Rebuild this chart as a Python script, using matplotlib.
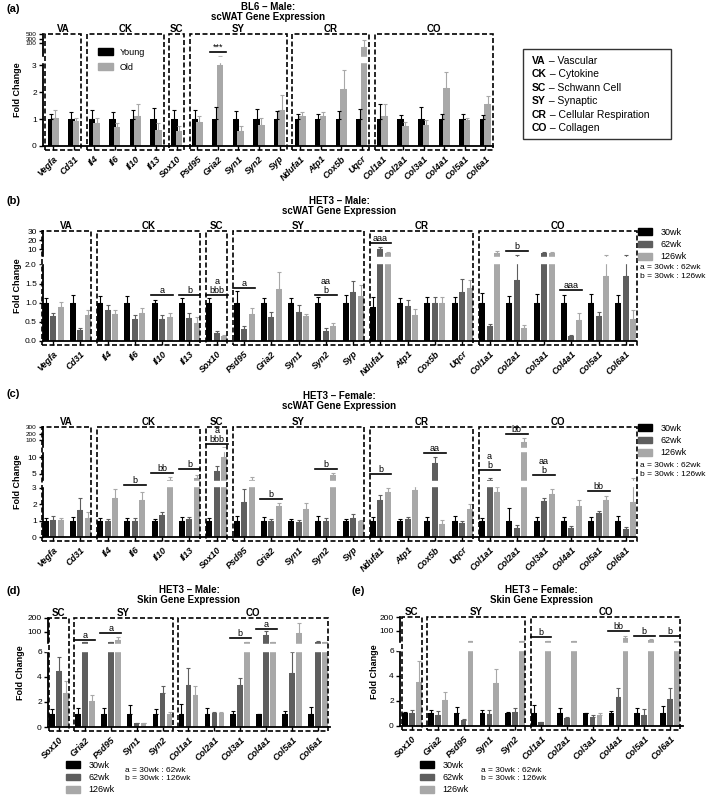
import numpy as np
import matplotlib.pyplot as plt
from matplotlib.patches import Rectangle, Patch

plt.rcParams['font.family'] = ['Liberation Sans', 'DejaVu Sans']
plt.rcParams['axes.linewidth'] = 1.3

genes_wat = ['Vegfa', 'Cd31', 'Il4', 'Il6', 'Il10', 'Il13', 'Sox10', 'Psd95', 'Gria2', 'Syn1', 'Syn2', 'Syp',
             'Ndufa1', 'Atp1', 'Cox5b', 'Uqcr', 'Col1a1', 'Col2a1', 'Col3a1', 'Col4a1', 'Col5a1', 'Col6a1']
groups_wat = [('VA', 0, 1), ('CK', 2, 5), ('SC', 6, 6), ('SY', 7, 11), ('CR', 12, 15), ('CO', 16, 21)]
genes_skin = ['Sox10', 'Gria2', 'Psd95', 'Syn1', 'Syn2', 'Col1a1', 'Col2a1', 'Col3a1', 'Col4a1', 'Col5a1', 'Col6a1']
groups_skin = [('SC', 0, 0), ('SY', 1, 4), ('CO', 5, 10)]
category_names = [('VA', 'Vascular'), ('CK', 'Cytokine'), ('SC', 'Schwann Cell'), ('SY', 'Synaptic'),
                  ('CR', 'Cellular Respiration'), ('CO', 'Collagen')]

# (a) BL6 male, scWAT
a_young = [1.0] * 22
a_young_err = [0.2, 0.25, 0.35, 0.25, 0.35, 0.4, 0.35, 0.35, 0.45, 0.3, 0.38, 0.3,
               0.2, 0.18, 0.3, 0.37, 0.55, 0.15, 0.45, 0.2, 0.2, 0.15]
a_old = [1.05, 0.93, 0.85, 0.72, 1.1, 0.6, 0.55, 0.9, 3.0, 0.55, 0.78, 1.35,
         1.1, 1.12, 2.1, 83, 1.1, 0.75, 0.78, 2.15, 0.95, 1.55]
a_old_err = [0.3, 0.12, 0.2, 0.13, 0.45, 0.25, 0.2, 0.2, 39, 0.18, 0.25, 0.55,
             0.15, 0.15, 0.7, 180, 0.45, 0.15, 0.2, 0.6, 0.1, 0.3]

# (b) HET3 male, scWAT
b_30 = [1.0] * 12 + [0.9] + [1.0] * 9
b_30_err = [0.12, 0.2, 0.18, 0.17, 0.07, 0.12, 0.12, 0.3, 0.12, 0.13, 0.15, 0.2,
            0.25, 0.12, 0.15, 0.15, 0.25, 0.17, 0.22, 0.2, 0.22, 0.2]
b_62 = [0.65, 0.3, 0.8, 0.58, 0.57, 0.6, 0.2, 0.32, 0.63, 0.75, 0.27, 1.27,
        10, 0.92, 1.0, 1.28, 0.4, 1.6, 8, 0.12, 0.65, 1.7]
b_62_err = [0.08, 0.05, 0.13, 0.1, 0.12, 0.12, 0.07, 0.06, 0.12, 0.2, 0.06, 0.3,
            2.5, 0.15, 0.15, 0.35, 0.04, 5.5, 0.8, 0.03, 0.1, 5.5]
b_126 = [0.9, 0.68, 0.7, 0.72, 0.62, 0.48, 0.13, 0.7, 1.35, 0.65, 0.38, 1.17,
         8, 0.68, 1.0, 1.38, 8, 0.33, 8, 0.55, 1.7, 0.57]
b_126_err = [0.12, 0.13, 0.1, 0.15, 0.1, 0.15, 0.02, 0.17, 0.45, 0.05, 0.1, 0.3,
             0.7, 0.15, 0.15, 0.2, 1.0, 0.1, 0.8, 0.18, 5.5, 0.25]

# (c) HET3 female, scWAT
c_30 = [1.0] * 22
c_30_err = [0.15, 0.2, 0.15, 0.15, 0.1, 0.2, 0.15, 0.3, 0.2, 0.1, 0.25, 0.1,
            0.2, 0.1, 0.2, 0.25, 0.15, 0.75, 0.2, 0.2, 0.2, 0.3]
c_62 = [1.05, 1.65, 0.95, 0.95, 1.35, 1.1, 5.75, 2.1, 1.0, 0.9, 1.0, 1.15,
        2.25, 1.1, 8.2, 0.85, 4.1, 0.55, 2.2, 0.55, 1.45, 0.5]
c_62_err = [0.2, 0.7, 0.15, 0.2, 0.15, 0.1, 1.5, 0.8, 0.1, 0.15, 0.15, 0.25,
            0.3, 0.1, 1.8, 0.15, 0.3, 0.2, 0.15, 0.1, 0.1, 0.1]
c_126 = [1.05, 1.15, 2.35, 2.25, 4.05, 4.35, 10.0, 4.05, 1.85, 1.7, 4.8, 0.95,
         2.75, 2.85, 0.8, 1.7, 2.7, 89, 2.6, 1.85, 2.25, 2.1]
c_126_err = [0.1, 0.35, 0.55, 0.45, 0.45, 0.5, 52, 0.4, 0.2, 0.35, 0.4, 0.1,
             0.2, 0.35, 0.25, 0.3, 0.35, 42, 0.3, 0.4, 0.25, 2.2]

# (d) HET3 male, skin
d_30 = [1.0] * 11
d_30_err = [0.45, 0.55, 0.55, 0.75, 0.45, 0.85, 0.5, 0.25, 0.05, 0.3, 0.6]
d_62 = [4.5, 50, 50, 0.3, 2.75, 3.35, 1.1, 3.35, 86, 4.35, 52]
d_62_err = [1.1, 3, 3, 0.03, 0.5, 1.35, 0.1, 0.6, 19, 1.6, 3]
d_126 = [2.7, 2.05, 60, 0.3, 1.05, 2.55, 1.1, 50, 50, 95, 50]
d_126_err = [1.0, 0.5, 14, 0.03, 0.15, 0.75, 0.1, 3, 3, 70, 3]

# (e) HET3 female, skin
e_30 = [1.0] * 11
e_30_err = [0.15, 0.3, 0.5, 0.3, 0.1, 0.65, 0.45, 0.05, 0.2, 0.45, 0.6]
e_62 = [1.0, 0.9, 0.45, 0.95, 1.1, 0.3, 0.6, 0.7, 2.3, 0.85, 2.15]
e_62_err = [0.3, 0.3, 0.1, 0.35, 0.35, 0.05, 0.15, 0.2, 0.7, 0.5, 0.85]
e_126 = [3.5, 2.05, 50, 3.4, 50, 50, 50, 0.85, 67, 57, 50]
e_126_err = [1.7, 0.7, 3, 1.15, 3, 3, 3, 0.2, 9, 5, 3]

BLACK = '#000000'
DARK = '#5e5e5e'
LIGHT = '#a8a8a8'

W, H = 709, 796
fig = plt.figure(figsize=(W / 100, H / 100), dpi=100)


def rect(left, top, right, bottom):
    return [left / W, 1 - bottom / H, (right - left) / W, (bottom - top) / H]


def broken_scale(knots, disp):
    # piecewise axis like the GraphPad segmented axes
    k = np.asarray(knots, float)
    d = np.asarray(disp, float)
    return (lambda y: np.interp(y, k, d)), (lambda v: np.interp(v, d, k))


def panel(pos, genes, groups, series, knots, disp, ytop, yticks, yticklabels, gaps,
          xlim, step, width, half, notes, ylab_x, n_small=0):
    ax = fig.add_axes(pos)
    fwd, inv = broken_scale(knots, disp)
    ax.set_yscale('function', functions=(fwd, inv))
    x = np.arange(len(genes))
    n = len(series)
    for k, (vals, errs, col, lab) in enumerate(series):
        xx = x + (k - (n - 1) / 2) * step
        ax.bar(xx, vals, width, color=col, label=lab, zorder=2)
        ax.errorbar(xx, vals, yerr=[np.zeros(len(vals)), errs], fmt='none', ecolor=col,
                    elinewidth=0.8, capsize=1.5, capthick=0.8, zorder=2.1)
    # white bands = axis breaks
    for lo, hi in gaps:
        ax.axhspan(inv(lo), inv(hi), xmin=-0.012, xmax=1, color='white', zorder=2.6, clip_on=False)
    # dashed category boxes
    for name, i0, i1 in groups:
        ax.add_patch(Rectangle((i0 - half, -0.036), i1 - i0 + 2 * half, 1.036,
                               transform=ax.get_xaxis_transform(), fill=False, lw=1.2,
                               ls=(0, (3, 1.5)), ec='black', clip_on=False, zorder=3))
        ax.text((i0 + i1) / 2, 1.0, name, transform=ax.get_xaxis_transform(), ha='center',
                va='bottom', fontsize=7, weight='bold')
    for i, txt, yd in notes:
        y = inv(yd)
        ax.plot([i - 0.4, i + 0.4], [y, y], color='black', lw=1.2, zorder=4, clip_on=False)
        ax.text(i, y, txt, ha='center', va='bottom', fontsize=6.5, linespacing=0.95, zorder=4)
    ax.set_xlim(*xlim)
    ax.set_ylim(0, ytop)
    ax.set_yticks(yticks)
    ax.set_yticklabels(yticklabels, fontsize=6)
    # the compressed top segment has tightly stacked labels
    if n_small:
        for lab in ax.get_yticklabels()[-n_small:]:
            lab.set_fontsize(4.6)
    ax.set_xticks(x)
    ax.set_xticklabels(genes, rotation=45, ha='right', rotation_mode='anchor',
                       fontsize=6.5, style='italic', weight='bold')
    ax.tick_params(axis='both', length=3, width=1, pad=1.5)
    ax.tick_params(axis='x', pad=3)
    ax.spines['top'].set_visible(False)
    ax.spines['right'].set_visible(False)
    ax.set_ylabel('Fold Change', fontsize=6.5, weight='bold')
    ax.yaxis.set_label_coords(ylab_x, 0.5)
    return ax


def title(cx, top, txt):
    fig.text(cx / W, 1 - top / H, txt, ha='center', va='top', fontsize=7, weight='bold',
             linespacing=1.05)


def plabel(x, top, txt):
    fig.text(x / W, 1 - top / H, txt, ha='left', va='top', fontsize=8, weight='bold')


def age_legend(x, top):
    h = [Patch(color=BLACK, label='30wk'), Patch(color=DARK, label='62wk'), Patch(color=LIGHT, label='126wk')]
    fig.legend(handles=h, loc='upper left', bbox_to_anchor=(x / W, 1 - top / H), frameon=False,
               fontsize=6.5, handlelength=1.6, handleheight=0.8, labelspacing=0.35,
               handletextpad=0.9, borderaxespad=0, borderpad=0)


def key_text(x, top):
    fig.text(x / W, 1 - top / H, 'a = 30wk : 62wk\nb = 30wk : 126wk', ha='left', va='top',
             fontsize=6, linespacing=1.3)


# ---- (a)
ax_a = panel(rect(43, 34, 493, 146), genes_wat, groups_wat,
             [(a_young, a_young_err, BLACK, 'Young'), (a_old, a_old_err, LIGHT, 'Old')],
             [-10, 0, 3, 100, 300, 500, 5000], [-10, 0, 3, 3.81, 3.96, 4.15, 5.5], 500,
             [0, 1, 2, 3, 100, 300, 500], ['0', '1', '2', '3', '100', '300', '500'],
             [(3.12, 3.28)], (-0.49, 21.37), 0.22, 0.32, 0.37,
             [(8, '***', 3.48)], -0.047, n_small=3)
ax_a.legend(handles=[Patch(color=BLACK, label='Young'), Patch(color=LIGHT, label='Old')],
            loc='upper left', bbox_to_anchor=(0.105, 0.95), frameon=False, fontsize=6.5,
            handlelength=1.6, handleheight=0.8, labelspacing=0.7, handletextpad=0.8)
title(268, 2, 'BL6 – Male:\nscWAT Gene Expression')
plabel(6, 4, '(a)')

# category key box
ov = fig.add_axes([0, 0, 1, 1])
ov.axis('off')
ov.set_xlim(0, 1)
ov.set_ylim(0, 1)
ov.add_patch(Rectangle((523 / W, 1 - 139 / H), 148 / W, 90 / H, fill=False, lw=1, ec='#333333'))
for j, (ab, full) in enumerate(category_names):
    t = ov.text(532 / W, 1 - (61 + j * 13.4) / H, ab, fontsize=7.5, weight='bold', va='center')
    ov.annotate(' – ' + full, xy=(1, 0), xycoords=t, va='bottom', ha='left', fontsize=7.5)

# ---- (b)
panel(rect(43, 231, 636, 341), genes_wat, groups_wat,
      [(b_30, b_30_err, BLACK, '30wk'), (b_62, b_62_err, DARK, '62wk'), (b_126, b_126_err, LIGHT, '126wk')],
      [-10, 0, 2, 10, 30, 300], [-10, 0, 2, 2.39, 2.87, 9.4], 30,
      [0, 0.5, 1.0, 1.5, 2.0, 10, 20, 30], ['0.0', '0.5', '1.0', '1.5', '2.0', '10', '20', '30'],
      [(2.04, 2.2)], (-0.37, 21.37), 0.275, 0.22, 0.39,
      [(4, 'a', 1.2), (5, 'b', 1.2), (6, 'a\nbbb', 1.2), (7, 'a', 1.38), (10, 'aa\nb', 1.2),
       (12, 'aaa', 2.56), (17, 'b', 2.35), (19, 'aaa', 1.33)], -0.035)
title(339, 196, 'HET3 – Male:\nscWAT Gene Expression')
plabel(6, 196, '(b)')
age_legend(638, 228)
key_text(640, 264)

# ---- (c)
panel(rect(43, 427, 636, 537), genes_wat, groups_wat,
      [(c_30, c_30_err, BLACK, '30wk'), (c_62, c_62_err, DARK, '62wk'), (c_126, c_126_err, LIGHT, '126wk')],
      [-10, 0, 3, 5, 10, 100, 200, 300, 3000], [-10, 0, 3, 3.85, 4.85, 5.88, 6.27, 6.67, 10.7], 300,
      [0, 1, 2, 3, 5, 10, 100, 200, 300], ['0', '1', '2', '3', '5', '10', '100', '200', '300'],
      [(3.1, 3.38), (5.22, 5.4)], (-0.37, 21.37), 0.275, 0.22, 0.39,
      [(3, 'b', 3.15), (4, 'bb', 3.88), (5, 'b', 4.1), (6, 'a\nbbb', 5.64), (8, 'b', 2.3),
       (10, 'b', 4.1), (12, 'b', 3.8), (14, 'aa', 5.1), (16, 'a\nb', 4.06), (17, 'bb', 6.24),
       (18, 'aa\nb', 3.76), (20, 'bb', 2.8)], -0.035, n_small=3)
title(339, 391, 'HET3 – Female:\nscWAT Gene Expression')
plabel(6, 389, '(c)')
age_legend(638, 424)
key_text(640, 462)

# ---- (d)
panel(rect(48, 618, 330, 727), genes_skin, groups_skin,
      [(d_30, d_30_err, BLACK, '30wk'), (d_62, d_62_err, DARK, '62wk'), (d_126, d_126_err, LIGHT, '126wk')],
      [-10, 0, 6, 100, 200, 2000], [-10, 0, 6, 7.6, 8.7, 28.5], 200,
      [0, 2, 4, 6, 100, 200], ['0', '2', '4', '6', '100', '200'],
      [(6.1, 6.6)], (-0.42, 10.46), 0.27, 0.22, 0.4,
      [(1, 'a', 6.96), (2, 'a', 7.5), (7, 'b', 7.1), (8, 'a', 7.84)], -0.082)
title(189, 585, 'HET3 – Male:\nSkin Gene Expression')
plabel(6, 586, '(d)')
age_legend(66, 761)
key_text(125, 767)

# ---- (e)
panel(rect(400, 617, 683, 726), genes_skin, groups_skin,
      [(e_30, e_30_err, BLACK, '30wk'), (e_62, e_62_err, DARK, '62wk'), (e_126, e_126_err, LIGHT, '126wk')],
      [-10, 0, 6, 100, 200, 2000], [-10, 0, 6, 7.6, 8.7, 28.5], 200,
      [0, 2, 4, 6, 100, 200], ['0', '2', '4', '6', '100', '200'],
      [(6.1, 6.6)], (-0.46, 10.5), 0.27, 0.22, 0.4,
      [(5, 'b', 7.1), (8, 'bb', 7.6), (9, 'b', 7.2), (10, 'b', 7.2)], -0.074)
title(541, 585, 'HET3 – Female:\nSkin Gene Expression')
plabel(352, 586, '(e)')
age_legend(420, 761)
key_text(481, 767)

fig.savefig('out.png', dpi=100)
